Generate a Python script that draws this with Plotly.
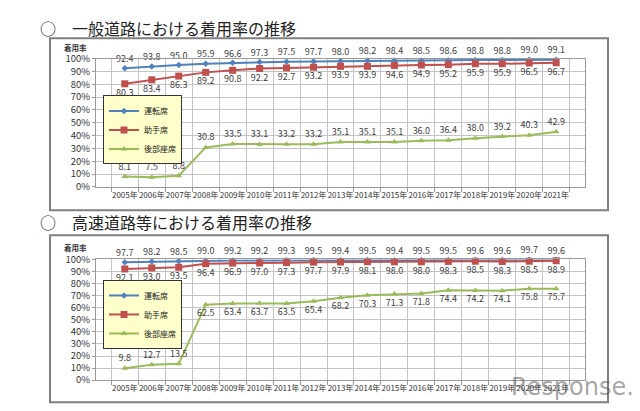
import plotly.graph_objects as go

years = [f"{y}年" for y in range(2005, 2022)]
series_names = ["運転席", "助手席", "後部座席"]

# 一般道路
gen_driver = [92.4, 93.8, 95.0, 95.9, 96.6, 97.3, 97.5, 97.7, 98.0, 98.2, 98.4, 98.5, 98.6, 98.8, 98.8, 99.0, 99.1]
gen_passenger = [80.3, 83.4, 86.3, 89.2, 90.8, 92.2, 92.7, 93.2, 93.9, 93.9, 94.6, 94.9, 95.2, 95.9, 95.9, 96.5, 96.7]
gen_rear = [8.1, 7.5, 8.8, 30.8, 33.5, 33.1, 33.2, 33.2, 35.1, 35.1, 35.1, 36.0, 36.4, 38.0, 39.2, 40.3, 42.9]

# 高速道路等
hw_driver = [97.7, 98.2, 98.5, 99.0, 99.2, 99.2, 99.3, 99.5, 99.4, 99.5, 99.4, 99.5, 99.5, 99.6, 99.6, 99.7, 99.6]
hw_passenger = [92.1, 93.0, 93.5, 96.4, 96.9, 97.0, 97.3, 97.7, 97.9, 98.1, 98.0, 98.0, 98.3, 98.5, 98.3, 98.5, 98.9]
hw_rear = [9.8, 12.7, 13.5, 62.5, 63.4, 63.7, 63.5, 65.4, 68.2, 70.3, 71.3, 71.8, 74.4, 74.2, 74.1, 75.8, 75.7]

titles = ["○　一般道路における着用率の推移", "○　高速道路等における着用率の推移"]
y_ticks = list(range(0, 101, 10))

colors = ["#4f81bd", "#c0504d", "#9bbb59"]
symbols = ["diamond", "square", "triangle-up"]
msizes = [5, 7, 6]
FONT = "Noto Sans CJK JP"
W, H = 640, 411

def px_x(p):
    return p / W

def px_y(p):
    return 1 - p / H

fig = go.Figure()

def add_chart(idx, data, text_positions, legend_name):
    xa = "x" if idx == 0 else "x2"
    ya = "y" if idx == 0 else "y2"
    for k, (vals, name) in enumerate(zip(data, series_names)):
        fig.add_trace(go.Scatter(
            x=years, y=vals, name=name, mode="lines+markers+text",
            text=[f"{v:.1f}" for v in vals],
            textposition=text_positions[k],
            textfont=dict(size=9, color="#404040", family=FONT),
            line=dict(color=colors[k], width=2),
            marker=dict(color=colors[k], symbol=symbols[k], size=msizes[k]),
            cliponaxis=False, xaxis=xa, yaxis=ya, legend=legend_name,
        ))

n = len(years)
add_chart(0, [gen_driver, gen_passenger, gen_rear],
          [["top center"] * n, ["bottom center"] * n, ["top center"] * n], "legend")
add_chart(1, [hw_driver, hw_passenger, hw_rear],
          [["top center"] * n, ["bottom center"] * n,
           ["top center"] * 3 + ["bottom center"] * (n - 3)], "legend2")

xcommon = dict(type="category", tickson="boundaries", showgrid=True, gridcolor="#c4c4c4",
               gridwidth=1, ticks="outside", ticklen=4, tickcolor="#999", tickangle=0,
               showline=True, linecolor="#999", linewidth=1, mirror=True,
               tickfont=dict(size=8, color="#333", family=FONT), domain=[px_x(88), px_x(577)],
               fixedrange=True)
ycommon = dict(range=[0, 100], tickvals=y_ticks, ticktext=[f"{t}%" for t in y_ticks],
               showgrid=True, gridcolor="#c4c4c4", gridwidth=1, showline=True,
               linecolor="#999", linewidth=1, mirror=True, ticks="outside", ticklen=3,
               tickcolor="#999", tickfont=dict(size=9.5, color="#333", family=FONT),
               zeroline=False)

legend_style = dict(bgcolor="#ffffcc", bordercolor="#333", borderwidth=1,
                    font=dict(size=8, color="#222", family=FONT),
                    xanchor="left", yanchor="middle", tracegroupgap=0, itemwidth=30)

fig.update_layout(
    width=W, height=H, margin=dict(l=0, r=0, t=0, b=0),
    paper_bgcolor="white", plot_bgcolor="white",
    xaxis=dict(**xcommon, anchor="y"),
    yaxis=dict(**ycommon, domain=[px_y(177), px_y(44)], anchor="x"),
    xaxis2=dict(**xcommon, anchor="y2"),
    yaxis2=dict(**ycommon, domain=[px_y(377), px_y(252)], anchor="x2"),
    legend=dict(**legend_style, x=px_x(95), y=px_y(118)),
    legend2=dict(**legend_style, x=px_x(95), y=px_y(309)),
    showlegend=True,
)

shapes = []
for (x0, y0, x1, y1) in [(42, 23, 600, 201), (42, 227, 600, 400)]:
    shapes.append(dict(type="rect", xref="paper", yref="paper",
                       x0=px_x(x0), x1=px_x(x1), y0=px_y(y1), y1=px_y(y0),
                       line=dict(color="#808080", width=2), layer="below"))
fig.update_layout(shapes=shapes)

annotations = []
for t, yp in zip(titles, [12, 213]):
    annotations.append(dict(text=t, x=px_x(30), y=px_y(yp), xref="paper", yref="paper",
                            xanchor="left", yanchor="middle", showarrow=False,
                            font=dict(size=16, color="#222", family=FONT)))
for yp in [33, 240]:
    annotations.append(dict(text="<b>着用率</b>", x=px_x(67), y=px_y(yp), xref="paper", yref="paper",
                            xanchor="center", yanchor="middle", showarrow=False,
                            font=dict(size=7.5, color="#333", family=FONT)))
annotations.append(dict(text="Response.", x=px_x(628), y=px_y(384), xref="paper", yref="paper",
                        xanchor="right", yanchor="middle", showarrow=False,
                        font=dict(size=24, color="rgba(90,90,90,0.55)", family="DejaVu Sans")))
fig.update_layout(annotations=annotations)

fig.write_html("out.html")
